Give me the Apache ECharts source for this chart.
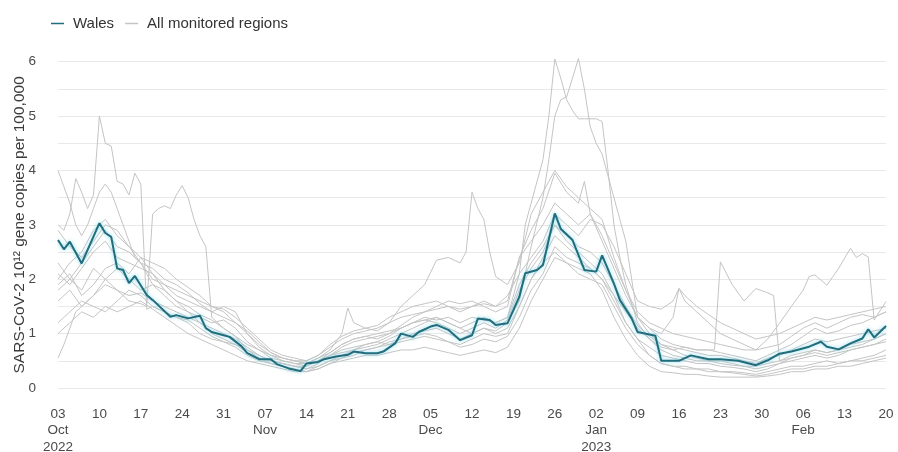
<!DOCTYPE html>
<html>
<head>
<meta charset="utf-8">
<script src="https://cdn.jsdelivr.net/npm/echarts@6/dist/echarts.min.js"></script>
<style>
  html, body { margin: 0; padding: 0; background: #fff; }
  #chart { width: 898px; height: 452px; }
</style>
</head>
<body>
<div id="chart"></div>
<script>
// x = days since 03 Oct 2022, y = SARS-CoV-2 10^12 gene copies per 100,000
var startDate = [2022, 9, 3];
var yTicks = [0, 1, 2, 3, 4, 5, 6];

var wales = [[0,2.72],[1,2.55],[2,2.69],[4,2.29],[7,3.03],[8,2.85],[9,2.78],[10,2.2],[11,2.17],[12,1.93],[13,2.06],[15,1.71],[16,1.62],[19,1.31],[20,1.34],[22,1.28],[24,1.33],[25,1.1],[26,1.03],[28,0.97],[29,0.94],[31,0.77],[32,0.64],[34,0.53],[36,0.53],[37,0.44],[39,0.36],[41,0.31],[42,0.45],[44,0.48],[45,0.53],[47,0.58],[49,0.61],[50,0.67],[52,0.64],[54,0.64],[55,0.67],[57,0.82],[58,1.0],[60,0.94],[61,1.03],[63,1.13],[64,1.16],[66,1.07],[68,0.88],[70,0.97],[71,1.28],[73,1.25],[74,1.16],[76,1.19],[78,1.68],[79,2.11],[81,2.17],[82,2.26],[84,3.21],[85,2.93],[87,2.72],[89,2.17],[91,2.14],[92,2.44],[94,1.92],[95,1.62],[96,1.45],[97,1.28],[98,1.03],[101,0.96],[102,0.5],[105,0.5],[107,0.6],[110,0.53],[112,0.53],[115,0.5],[118,0.42],[120,0.51],[122,0.63],[124,0.67],[127,0.76],[129,0.85],[130,0.76],[132,0.71],[134,0.82],[136,0.91],[137,1.08],[138,0.93],[140,1.14]];

var regionA = [[0,4.0],[1,3.7],[2,3.4],[3,3.0],[4,2.8],[5,3.0],[6,3.3],[7,3.6],[8,3.75],[9,3.6],[10,3.3],[11,3.0],[12,2.7],[13,2.4],[14,2.3],[15,2.1],[16,1.9],[18,1.8],[20,1.6],[22,1.5],[24,1.35],[26,1.25],[28,1.1],[30,0.95],[32,0.8],[34,0.7],[36,0.6],[38,0.5],[40,0.45],[42,0.4],[44,0.5],[46,0.6],[48,0.65],[50,0.7],[52,0.8],[54,0.85],[56,0.95],[58,1.1],[60,1.2],[62,1.3],[64,1.25],[66,1.3],[68,1.2],[70,1.3],[72,1.25],[74,1.2],[76,1.3],[78,1.9],[80,2.3],[82,2.6],[84,3.0],[86,2.7],[88,2.5],[90,2.3],[92,2.1],[94,1.7],[96,1.2],[98,0.9],[100,0.75],[102,0.6],[104,0.55],[106,0.5],[108,0.45],[110,0.45],[112,0.4],[114,0.38],[116,0.35],[118,0.3],[120,0.35],[122,0.45],[124,0.5],[126,0.55],[128,0.6],[130,0.55],[132,0.6],[134,0.7],[136,0.75],[138,0.8],[140,0.85]];

var regionB = [[0,3.0],[1,2.9],[2,3.2],[3,3.85],[4,3.6],[5,3.3],[6,3.55],[7,5.0],[8,4.5],[9,4.45],[10,3.8],[11,3.75],[12,3.55],[13,3.95],[14,3.75],[15,1.45],[16,1.5],[18,1.4],[20,1.3],[22,1.25],[24,1.1],[26,0.95],[28,0.85],[30,0.75],[32,0.6],[34,0.5],[36,0.45],[38,0.4],[40,0.35],[42,0.3],[44,0.4],[46,0.5],[48,0.55],[50,0.6],[52,0.7],[54,0.75],[56,0.8],[58,0.9],[60,0.95],[62,1.0],[64,0.95],[66,0.85],[68,0.8],[70,0.9],[72,1.0],[74,0.95],[76,1.0],[78,1.5],[80,2.0],[82,2.3],[84,2.5],[86,2.3],[88,2.1],[90,2.0],[92,1.9],[94,1.5],[96,1.1],[98,0.8],[100,0.6],[102,0.45],[104,0.4],[106,0.4],[108,0.35],[110,0.35],[112,0.3],[114,0.3],[116,0.28],[118,0.25],[120,0.3],[122,0.35],[124,0.4],[126,0.4],[128,0.45],[130,0.5],[132,0.45],[134,0.5],[136,0.55],[138,0.6],[140,0.7]];

var regionC = [[0,2.3],[2,2.0],[4,1.8],[6,2.2],[8,2.0],[10,1.8],[12,1.6],[14,1.55],[15,1.5],[16,3.2],[17,3.3],[18,3.35],[19,3.3],[20,3.55],[21,3.72],[22,3.5],[23,3.1],[24,2.8],[25,2.6],[26,1.3],[28,1.1],[30,0.95],[32,0.7],[34,0.6],[36,0.5],[38,0.45],[40,0.4],[42,0.35],[44,0.45],[46,0.6],[48,0.75],[50,0.85],[52,0.9],[54,0.95],[56,1.0],[58,1.15],[60,1.3],[62,1.4],[64,1.5],[66,1.6],[68,1.55],[70,1.6],[72,1.5],[74,1.4],[76,1.5],[78,2.4],[80,2.9],[82,3.3],[84,3.95],[86,3.6],[88,3.4],[89,3.8],[90,3.2],[92,2.7],[94,2.2],[96,1.7],[98,1.3],[100,1.1],[102,0.9],[104,0.8],[106,0.75],[108,0.7],[110,0.7],[112,0.65],[114,0.6],[116,0.55],[118,0.5],[120,0.6],[122,0.7],[124,0.8],[126,0.95],[128,1.1],[130,1.0],[132,1.05],[134,1.15],[136,1.2],[138,1.3],[140,1.4]];

var regionD = [[0,2.1],[2,1.9],[4,2.2],[6,2.5],[8,2.7],[10,2.4],[12,2.3],[14,2.2],[16,2.1],[18,1.9],[20,1.7],[22,1.6],[24,1.5],[26,1.4],[28,1.5],[30,1.4],[32,1.0],[34,0.75],[36,0.6],[38,0.55],[40,0.5],[42,0.45],[44,0.55],[46,0.7],[48,1.0],[49,1.47],[50,1.2],[52,1.1],[54,1.05],[56,1.2],[58,1.5],[60,1.7],[62,1.9],[64,2.35],[66,2.4],[68,2.3],[69,2.5],[70,3.6],[71,3.3],[72,3.1],[73,2.5],[74,2.05],[76,1.9],[78,2.3],[80,3.2],[82,3.6],[84,4.0],[86,3.7],[88,3.5],[90,3.3],[92,3.1],[94,2.4],[96,1.8],[98,1.3],[100,1.1],[102,1.0],[104,1.3],[105,1.83],[106,1.6],[108,1.4],[110,1.2],[112,1.0],[114,0.9],[116,0.8],[118,0.7],[120,0.75],[122,0.8],[124,0.95],[126,1.1],[128,1.2],[130,1.1],[132,1.2],[134,1.3],[136,1.35],[138,1.3],[140,1.4]];

var regionE = [[0,1.9],[2,2.1],[4,1.7],[6,1.9],[8,2.2],[10,2.3],[12,2.1],[14,2.4],[16,2.1],[18,1.8],[20,1.6],[22,1.4],[24,1.2],[26,1.1],[28,1.0],[30,0.9],[32,0.75],[34,0.6],[36,0.5],[38,0.45],[40,0.4],[42,0.35],[44,0.4],[46,0.5],[48,0.6],[50,0.7],[52,0.75],[54,0.8],[56,0.9],[58,1.0],[60,1.1],[62,1.2],[64,1.3],[66,1.2],[68,1.1],[70,1.2],[72,1.3],[74,1.2],[76,1.3],[78,2.1],[79,3.0],[80,3.4],[82,4.2],[83,5.0],[84,6.05],[85,5.7],[86,5.3],[87,5.1],[88,4.95],[89,4.95],[91,4.95],[92,4.9],[93,4.0],[94,3.0],[95,2.4],[96,1.9],[98,1.2],[100,0.9],[102,0.7],[104,0.6],[106,0.55],[108,0.5],[110,0.5],[112,0.45],[114,0.42],[116,0.4],[118,0.35],[120,0.4],[122,0.45],[124,0.55],[126,0.6],[128,0.65],[130,0.6],[132,0.65],[134,0.7],[136,0.75],[138,0.8],[140,0.9]];

var regionF = [[0,1.2],[2,1.4],[4,1.6],[6,1.5],[8,1.4],[10,1.6],[12,1.8],[14,1.7],[16,1.5],[18,1.4],[20,1.3],[22,1.2],[24,1.0],[26,0.9],[28,0.85],[30,0.8],[32,0.7],[34,0.55],[36,0.45],[38,0.4],[40,0.35],[42,0.3],[44,0.35],[46,0.45],[48,0.55],[50,0.65],[52,0.7],[54,0.75],[56,0.85],[58,0.9],[60,1.0],[62,1.05],[64,1.1],[66,1.0],[68,0.9],[70,1.0],[72,1.1],[74,1.05],[76,1.2],[78,1.6],[80,2.6],[82,3.5],[83,4.2],[84,5.0],[85,5.3],[86,5.35],[87,5.7],[88,6.06],[89,5.5],[90,4.8],[91,4.5],[92,4.3],[93,3.9],[94,3.5],[95,3.1],[96,2.7],[97,2.0],[98,1.3],[100,1.0],[102,0.8],[104,0.7],[106,0.6],[108,0.55],[110,0.5],[112,0.5],[114,0.45],[116,0.4],[118,0.4],[120,0.45],[122,0.5],[124,0.6],[126,0.65],[128,0.7],[130,0.65],[132,0.7],[134,0.75],[136,0.8],[138,0.9],[140,1.0]];

var regionG = [[0,0.55],[1,0.8],[2,1.1],[3,1.4],[4,1.5],[6,1.7],[8,1.9],[10,1.8],[12,1.7],[14,1.75],[16,1.6],[18,1.5],[20,1.4],[22,1.3],[24,1.2],[26,1.0],[28,0.9],[30,0.8],[32,0.65],[34,0.55],[36,0.5],[38,0.45],[40,0.4],[42,0.4],[44,0.5],[46,0.6],[48,0.7],[50,0.75],[52,0.8],[54,0.85],[56,0.8],[58,0.85],[60,0.9],[62,0.95],[64,0.9],[66,0.85],[68,0.75],[70,0.8],[72,0.9],[74,0.85],[76,0.95],[78,1.3],[80,1.8],[82,2.1],[84,2.6],[86,2.4],[88,2.3],[90,2.2],[92,2.0],[94,1.6],[96,1.2],[98,0.9],[100,0.6],[102,0.45],[104,0.4],[106,0.35],[108,0.35],[110,0.3],[112,0.3],[114,0.28],[116,0.25],[118,0.22],[120,0.25],[122,0.3],[124,0.35],[126,0.35],[128,0.4],[130,0.4],[132,0.45],[134,0.5],[136,0.5],[138,0.55],[140,0.6]];

var regionH = [[0,1.6],[2,1.8],[4,1.5],[6,1.7],[8,2.0],[10,2.2],[12,2.0],[14,1.8],[16,1.9],[18,1.7],[20,1.5],[22,1.4],[24,1.3],[26,1.2],[28,1.25],[30,1.1],[32,0.85],[34,0.7],[36,0.55],[38,0.5],[40,0.45],[42,0.45],[44,0.55],[46,0.65],[48,0.8],[50,0.9],[52,0.95],[54,1.0],[56,1.05],[58,1.1],[60,1.2],[62,1.25],[64,1.3],[66,1.2],[68,1.1],[70,1.0],[72,1.1],[74,1.0],[76,1.1],[78,1.5],[80,2.0],[82,2.4],[84,2.8],[86,2.6],[88,2.4],[90,2.2],[92,2.0],[94,1.7],[96,1.4],[98,1.1],[100,0.9],[102,0.75],[104,0.7],[106,0.75],[108,0.7],[110,0.7],[111,0.7],[112,2.32],[114,1.9],[116,1.6],[118,1.83],[120,1.75],[121,1.7],[122,0.5],[124,0.55],[126,0.6],[128,0.7],[130,0.65],[132,0.7],[134,0.8],[136,0.85],[138,0.9],[140,1.0]];

var regionI = [[0,1.8],[2,2.0],[4,2.3],[6,2.6],[8,2.9],[10,2.6],[12,2.5],[14,2.3],[16,2.0],[18,1.9],[20,1.8],[22,1.7],[24,1.6],[26,1.5],[28,1.4],[30,1.2],[32,1.0],[34,0.8],[36,0.65],[38,0.55],[40,0.5],[42,0.5],[44,0.6],[46,0.75],[48,0.9],[50,1.0],[52,1.05],[54,1.1],[56,1.2],[58,1.3],[60,1.35],[62,1.4],[64,1.45],[66,1.5],[68,1.45],[70,1.5],[72,1.55],[74,1.5],[76,1.6],[78,2.4],[80,2.7],[82,3.0],[84,3.4],[86,3.2],[88,3.0],[90,3.2],[92,2.8],[94,2.3],[96,1.8],[98,1.4],[100,1.2],[102,1.1],[104,1.0],[106,0.95],[108,0.9],[110,0.85],[112,0.8],[114,0.75],[116,0.7],[118,0.7],[120,0.9],[122,1.19],[124,1.5],[126,1.8],[127,2.05],[128,2.08],[130,1.89],[132,2.2],[134,2.57],[135,2.4],[136,2.47],[137,2.41],[138,1.25],[140,1.59]];

var regionJ = [[0,2.0],[2,2.3],[4,2.5],[6,2.9],[8,3.1],[10,2.8],[12,2.6],[14,2.4],[16,2.3],[18,2.2],[20,2.0],[22,1.85],[24,1.7],[26,1.5],[28,1.45],[30,1.3],[32,1.1],[34,0.9],[36,0.7],[38,0.6],[40,0.55],[42,0.5],[44,0.6],[46,0.8],[48,0.95],[50,1.05],[52,1.1],[54,1.15],[56,1.3],[58,1.4],[60,1.5],[62,1.55],[64,1.6],[66,1.5],[68,1.4],[70,1.5],[72,1.6],[74,1.5],[76,1.7],[78,2.1],[80,2.4],[82,2.7],[84,3.2],[86,3.0],[88,2.8],[90,3.1],[92,3.0],[94,2.6],[96,2.1],[98,1.6],[100,1.5],[102,1.45],[104,1.6],[105,1.83],[106,1.7],[108,1.5],[110,1.35],[112,1.2],[114,1.1],[116,1.0],[118,0.9],[120,0.95],[122,1.0],[124,1.1],[126,1.2],[128,1.3],[130,1.25],[132,1.3],[134,1.35],[136,1.4],[138,1.45],[140,1.5]];

var regionK = [[0,1.0],[2,1.2],[4,1.4],[6,1.3],[8,1.5],[10,1.4],[12,1.5],[14,1.6],[16,1.45],[18,1.3],[20,1.15],[22,1.0],[24,0.9],[26,0.8],[28,0.7],[30,0.6],[32,0.5],[34,0.45],[36,0.4],[38,0.35],[40,0.3],[42,0.3],[44,0.35],[46,0.45],[48,0.5],[50,0.55],[52,0.6],[54,0.6],[56,0.65],[58,0.7],[60,0.7],[62,0.75],[64,0.7],[66,0.65],[68,0.6],[70,0.65],[72,0.7],[74,0.65],[76,0.75],[78,1.1],[80,1.6],[82,2.0],[84,2.4],[86,2.3],[88,2.2],[90,2.1],[92,1.8],[94,1.3],[96,0.9],[98,0.6],[100,0.4],[102,0.3],[104,0.28],[106,0.25],[108,0.25],[110,0.22],[112,0.2],[114,0.2],[116,0.2],[118,0.2],[120,0.22],[122,0.25],[124,0.3],[126,0.3],[128,0.35],[130,0.35],[132,0.4],[134,0.4],[136,0.45],[138,0.5],[140,0.55]];

var regionL = [[0,2.9],[2,2.6],[4,2.4],[6,2.7],[8,3.0],[10,2.9],[12,2.6],[14,2.3],[16,2.2],[18,2.0],[20,1.9],[22,1.75],[24,1.55],[26,1.4],[28,1.3],[30,1.2],[32,1.05],[34,0.85],[36,0.65],[38,0.55],[40,0.5],[42,0.45],[44,0.5],[46,0.65],[48,0.8],[50,0.9],[52,0.95],[54,0.9],[56,1.0],[58,1.1],[60,1.2],[62,1.25],[64,1.2],[66,1.1],[68,1.0],[70,1.1],[72,1.2],[74,1.1],[76,1.25],[78,1.8],[80,2.2],[82,2.5],[84,3.0],[86,2.8],[88,2.6],[90,2.5],[92,2.3],[94,1.9],[96,1.5],[98,1.15],[100,0.95],[102,0.8],[104,0.75],[106,0.7],[108,0.65],[110,0.6],[112,0.6],[114,0.55],[116,0.5],[118,0.45],[120,0.55],[122,0.6],[124,0.7],[126,0.8],[128,0.9],[130,0.85],[132,0.9],[134,0.95],[136,1.0],[138,1.05],[140,1.1]];

var regions = [regionA, regionB, regionC, regionD, regionE, regionF, regionG, regionH, regionI, regionJ, regionK, regionL];

var monthNames = ['Jan','Feb','Mar','Apr','May','Jun','Jul','Aug','Sep','Oct','Nov','Dec'];

function dayLabel(d) {
    var dt = new Date(startDate[0], startDate[1], startDate[2] + d);
    var day = ('0' + dt.getDate()).slice(-2);
    if (d === 0) return day + '\n' + monthNames[dt.getMonth()] + '\n' + dt.getFullYear();
    if (dt.getDate() <= 7) {
        if (dt.getMonth() === 0) return day + '\n' + monthNames[0] + '\n' + dt.getFullYear();
        return day + '\n' + monthNames[dt.getMonth()];
    }
    return day;
}

var chart = echarts.init(document.getElementById('chart'));

var grey = '#c4c4c4';
var teal = '#1f6d7d';

var series = regions.map(function (r) {
    return {
        name: 'All monitored regions',
        type: 'line',
        data: r,
        symbol: 'none',
        clip: false,
        lineStyle: { color: grey, width: 1 },
        itemStyle: { color: grey },
        z: 2
    };
});
series.push({
    name: 'Wales',
    type: 'line',
    data: wales,
    symbol: 'none',
    clip: false,
    lineStyle: {
        color: teal,
        width: 2,
        shadowColor: 'rgba(110,210,232,0.85)',
        shadowBlur: 4
    },
    itemStyle: { color: teal },
    z: 5
});

chart.setOption({
    animation: false,
    legend: {
        data: [
            { name: 'Wales', icon: 'rect', itemStyle: { color: teal } },
            { name: 'All monitored regions', icon: 'rect', itemStyle: { color: grey } }
        ],
        left: 46,
        top: 11,
        itemWidth: 13,
        itemHeight: 1.5,
        itemGap: 11,
        textStyle: { color: '#333', fontSize: 15, fontFamily: 'Liberation Sans, Arial', padding: [0, 0, 0, 4] }
    },
    grid: { left: 58, right: 12, top: 61.7, bottom: 64, outerBoundsMode: 'none' },
    xAxis: {
        type: 'value',
        min: 0,
        max: 140,
        interval: 7,
        axisLine: { show: false },
        axisTick: { show: false },
        splitLine: { show: false },
        axisLabel: {
            margin: 18,
            color: '#4a4a4a',
            fontSize: 13.5,
            lineHeight: 16.5,
            fontFamily: 'Liberation Sans, Arial',
            formatter: dayLabel
        }
    },
    yAxis: {
        type: 'value',
        min: 0,
        max: 6,
        interval: 0.5,
        name: 'SARS-CoV-2 10\u00b9\u00b2 gene copies per 100,000',
        nameLocation: 'middle',
        nameGap: 30,
        nameMoveOverlap: false,
        nameTextStyle: { color: '#3a3a3a', fontSize: 15.5, fontFamily: 'Liberation Sans, Arial' },
        axisLine: { show: false },
        axisTick: { show: false },
        splitLine: { lineStyle: { color: '#e8e8e8', width: 1 } },
        axisLabel: {
            margin: 22,
            color: '#4a4a4a',
            fontSize: 13.5,
            fontFamily: 'Liberation Sans, Arial',
            formatter: function (v) { return yTicks.indexOf(v) >= 0 ? String(v) : ''; }
        }
    },
    series: series
});
</script>
</body>
</html>
